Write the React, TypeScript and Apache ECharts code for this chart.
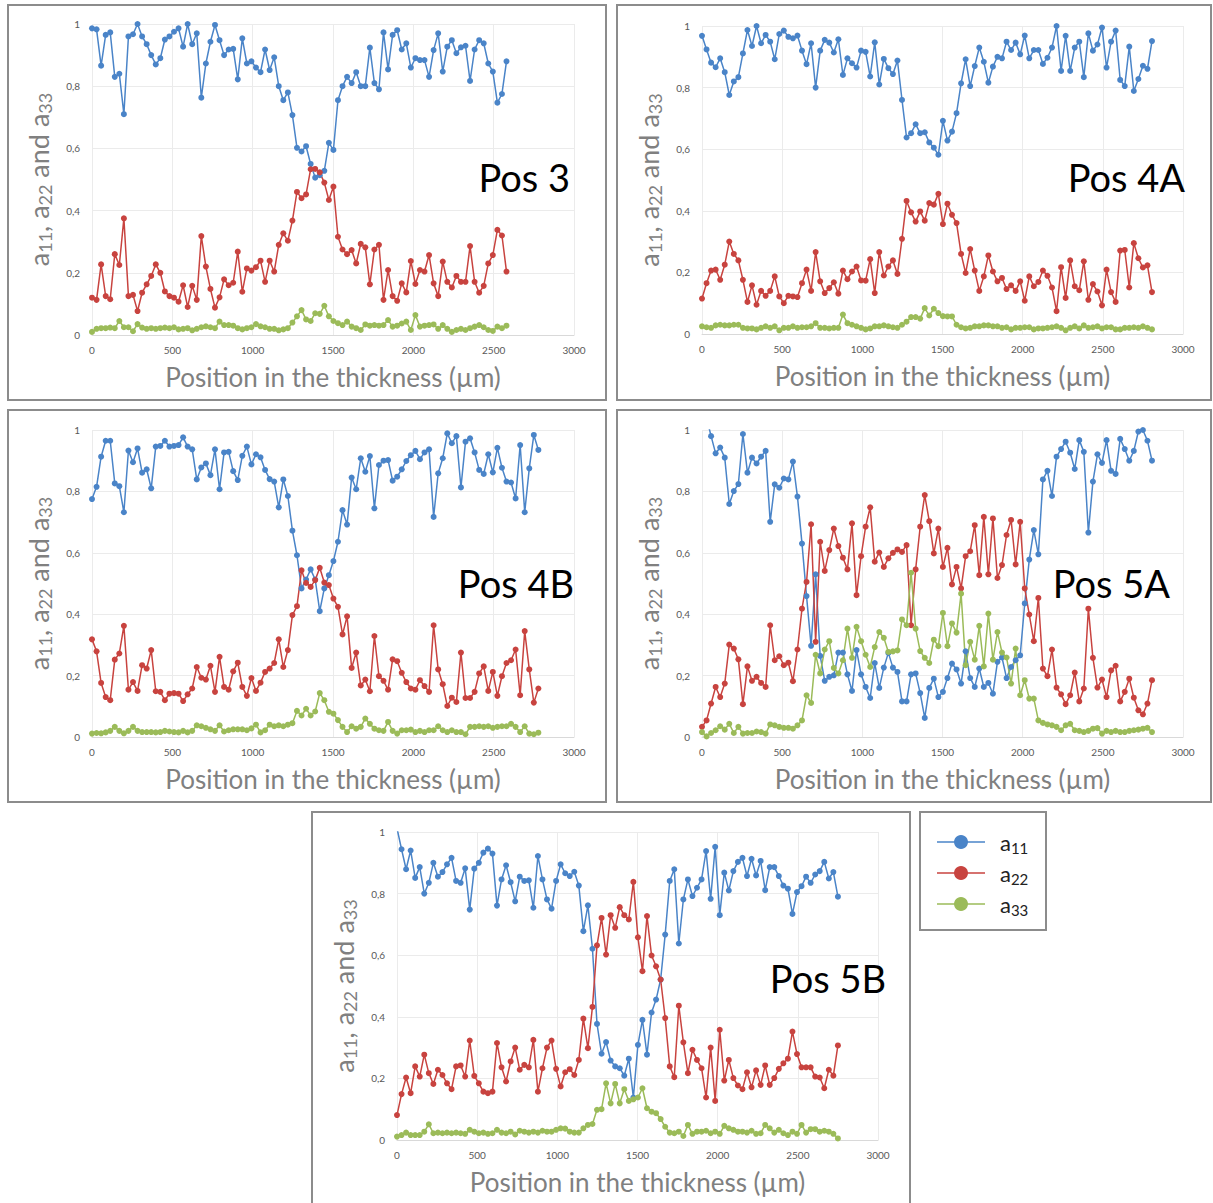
import React, { useEffect, useRef } from "react";
import * as echarts from "echarts";

// sampling step along the thickness (µm)
const STEP_UM = 28.35;
const X_TICKS = [0, 500, 1000, 1500, 2000, 2500, 3000];
const Y_TICK_LABELS = ["0", "0,2", "0,4", "0,6", "0,8", "1"];
const SERIES_NAMES = ["a11", "a22", "a33"];
const PANEL_LABELS = ["Pos 3", "Pos 4A", "Pos 4B", "Pos 5A", "Pos 5B"];

// ---------- Pos 3 ----------
const pos3_a11 = [0.986,0.983,0.866,0.965,0.973,0.83,0.84,0.71,0.96,0.967,1.0,0.96,0.935,0.90,0.87,0.89,0.95,0.96,0.975,0.986,0.927,1.0,0.935,0.97,0.763,0.873,0.943,0.997,0.948,0.90,0.918,0.92,0.822,0.954,0.873,0.88,0.86,0.845,0.918,0.852,0.893,0.80,0.755,0.78,0.707,0.602,0.59,0.607,0.55,0.506,0.514,0.528,0.618,0.595,0.755,0.80,0.83,0.81,0.845,0.80,0.80,0.924,0.81,0.79,0.973,0.854,0.965,0.98,0.918,0.938,0.86,0.89,0.884,0.884,0.83,0.916,0.97,0.847,0.927,0.948,0.906,0.925,0.93,0.817,0.918,0.948,0.938,0.873,0.847,0.747,0.775,0.88];
const pos3_a22 = [0.12,0.113,0.227,0.125,0.115,0.26,0.225,0.375,0.125,0.129,0.077,0.136,0.163,0.19,0.227,0.20,0.14,0.125,0.12,0.107,0.16,0.09,0.158,0.113,0.318,0.22,0.148,0.088,0.121,0.179,0.16,0.168,0.268,0.139,0.214,0.207,0.218,0.239,0.171,0.239,0.204,0.29,0.327,0.303,0.368,0.46,0.44,0.452,0.533,0.534,0.523,0.49,0.434,0.477,0.316,0.275,0.26,0.273,0.23,0.293,0.282,0.163,0.275,0.29,0.113,0.209,0.125,0.11,0.166,0.137,0.238,0.164,0.209,0.204,0.257,0.166,0.125,0.236,0.171,0.153,0.19,0.171,0.171,0.286,0.171,0.136,0.158,0.23,0.257,0.338,0.32,0.204];
const pos3_a33 = [0.01,0.02,0.022,0.022,0.024,0.022,0.045,0.025,0.025,0.012,0.035,0.024,0.02,0.022,0.02,0.022,0.024,0.022,0.025,0.018,0.02,0.022,0.015,0.02,0.025,0.028,0.025,0.022,0.043,0.032,0.032,0.03,0.022,0.018,0.022,0.025,0.035,0.028,0.025,0.02,0.02,0.015,0.018,0.022,0.04,0.06,0.08,0.05,0.045,0.07,0.068,0.094,0.06,0.045,0.038,0.032,0.043,0.027,0.022,0.016,0.034,0.03,0.032,0.03,0.032,0.048,0.027,0.03,0.037,0.043,0.016,0.064,0.027,0.03,0.032,0.034,0.02,0.032,0.02,0.01,0.016,0.02,0.016,0.022,0.027,0.032,0.025,0.016,0.013,0.027,0.022,0.03];

// ---------- Pos 4A ----------
const pos4A_a11 = [0.968,0.924,0.881,0.866,0.895,0.85,0.776,0.82,0.834,0.911,0.987,0.935,1.0,0.944,0.971,0.949,0.892,0.974,0.985,0.965,0.96,0.969,0.92,0.876,0.944,0.80,0.92,0.955,0.946,0.914,0.957,0.841,0.895,0.879,0.865,0.92,0.916,0.836,0.947,0.81,0.893,0.863,0.844,0.888,0.76,0.638,0.652,0.681,0.652,0.655,0.622,0.605,0.582,0.692,0.628,0.657,0.717,0.814,0.892,0.805,0.87,0.93,0.884,0.816,0.868,0.9,0.895,0.949,0.922,0.946,0.908,0.969,0.895,0.922,0.922,0.877,0.897,0.93,1.0,0.854,0.968,0.854,0.93,0.949,0.834,0.976,0.92,0.94,0.995,0.865,0.949,0.985,0.825,0.805,0.933,0.789,0.828,0.871,0.861,0.951];
const pos4A_a22 = [0.115,0.165,0.206,0.209,0.176,0.225,0.30,0.26,0.239,0.176,0.104,0.158,0.095,0.14,0.124,0.14,0.187,0.122,0.10,0.124,0.122,0.12,0.165,0.209,0.14,0.266,0.171,0.133,0.149,0.168,0.131,0.206,0.178,0.203,0.219,0.174,0.173,0.243,0.133,0.266,0.19,0.219,0.239,0.195,0.309,0.432,0.395,0.365,0.398,0.368,0.425,0.42,0.455,0.357,0.423,0.387,0.36,0.26,0.198,0.276,0.206,0.14,0.187,0.255,0.203,0.171,0.182,0.146,0.158,0.14,0.171,0.108,0.187,0.155,0.169,0.206,0.189,0.151,0.074,0.217,0.117,0.239,0.155,0.142,0.236,0.111,0.162,0.138,0.093,0.209,0.136,0.104,0.271,0.273,0.151,0.295,0.246,0.216,0.223,0.136];
const pos4A_a33 = [0.025,0.022,0.02,0.028,0.03,0.028,0.028,0.03,0.03,0.02,0.018,0.018,0.015,0.02,0.025,0.02,0.025,0.012,0.02,0.02,0.025,0.02,0.022,0.022,0.025,0.035,0.02,0.02,0.018,0.02,0.02,0.063,0.035,0.03,0.025,0.02,0.015,0.018,0.025,0.025,0.028,0.025,0.022,0.02,0.03,0.04,0.055,0.055,0.05,0.084,0.06,0.082,0.068,0.058,0.057,0.057,0.03,0.022,0.018,0.02,0.025,0.025,0.028,0.028,0.025,0.025,0.02,0.022,0.015,0.02,0.02,0.022,0.022,0.015,0.018,0.018,0.02,0.022,0.025,0.02,0.012,0.02,0.025,0.018,0.028,0.02,0.022,0.025,0.018,0.022,0.022,0.015,0.015,0.02,0.02,0.022,0.02,0.025,0.02,0.015];

// ---------- Pos 4B ----------
const pos4B_a11 = [0.775,0.815,0.913,0.965,0.965,0.826,0.817,0.732,0.933,0.895,0.94,0.861,0.872,0.81,0.946,0.948,0.965,0.946,0.948,0.951,0.976,0.946,0.937,0.839,0.878,0.891,0.853,0.937,0.807,0.927,0.929,0.866,0.837,0.916,0.946,0.888,0.921,0.911,0.87,0.84,0.832,0.748,0.839,0.785,0.672,0.592,0.484,0.513,0.546,0.513,0.41,0.484,0.527,0.573,0.636,0.739,0.692,0.845,0.807,0.908,0.864,0.915,0.745,0.886,0.9,0.902,0.835,0.848,0.872,0.899,0.918,0.932,0.905,0.927,0.937,0.717,0.859,0.908,0.989,0.957,0.98,0.813,0.962,0.973,0.927,0.87,0.857,0.921,0.862,0.942,0.877,0.832,0.829,0.777,0.951,0.732,0.875,0.984,0.935];
const pos4B_a22 = [0.318,0.279,0.176,0.13,0.12,0.252,0.272,0.362,0.154,0.179,0.15,0.234,0.223,0.283,0.149,0.147,0.12,0.141,0.143,0.141,0.117,0.139,0.158,0.228,0.193,0.187,0.232,0.147,0.261,0.163,0.154,0.214,0.242,0.163,0.134,0.192,0.15,0.177,0.212,0.223,0.241,0.318,0.228,0.283,0.397,0.426,0.543,0.502,0.489,0.511,0.551,0.503,0.495,0.451,0.424,0.334,0.393,0.225,0.275,0.168,0.187,0.149,0.329,0.198,0.183,0.154,0.253,0.247,0.209,0.179,0.158,0.154,0.185,0.166,0.147,0.364,0.22,0.172,0.101,0.128,0.114,0.275,0.127,0.127,0.147,0.207,0.23,0.15,0.212,0.134,0.198,0.241,0.25,0.285,0.136,0.345,0.22,0.112,0.158];
const pos4B_a33 = [0.011,0.013,0.012,0.015,0.02,0.033,0.02,0.012,0.02,0.033,0.02,0.016,0.016,0.016,0.015,0.016,0.02,0.018,0.016,0.015,0.02,0.015,0.02,0.038,0.035,0.03,0.025,0.02,0.038,0.018,0.022,0.025,0.025,0.025,0.022,0.028,0.04,0.015,0.022,0.04,0.035,0.038,0.035,0.04,0.045,0.085,0.07,0.092,0.07,0.083,0.143,0.12,0.082,0.076,0.055,0.033,0.016,0.035,0.027,0.033,0.06,0.043,0.027,0.022,0.02,0.049,0.02,0.011,0.022,0.022,0.024,0.016,0.02,0.016,0.022,0.022,0.035,0.022,0.016,0.022,0.016,0.016,0.009,0.033,0.033,0.035,0.033,0.035,0.03,0.033,0.035,0.035,0.043,0.033,0.016,0.035,0.011,0.009,0.014];

// ---------- Pos 5A ----------
const pos5A_a11 = [1.12,1.04,0.98,0.924,0.943,0.91,0.759,0.801,0.824,0.987,0.861,0.91,0.891,0.913,0.932,0.701,0.823,0.812,0.842,0.839,0.897,0.783,0.63,0.459,0.297,0.53,0.264,0.183,0.196,0.201,0.275,0.275,0.204,0.15,0.283,0.204,0.163,0.127,0.241,0.16,0.226,0.274,0.226,0.212,0.116,0.116,0.204,0.207,0.143,0.062,0.16,0.19,0.13,0.147,0.192,0.239,0.22,0.174,0.279,0.192,0.163,0.223,0.163,0.176,0.141,0.245,0.259,0.192,0.228,0.25,0.266,0.435,0.578,0.674,0.595,0.839,0.867,0.785,0.913,0.938,0.962,0.926,0.873,0.967,0.929,0.666,0.832,0.921,0.893,0.967,0.867,0.857,0.971,0.938,0.9,0.932,0.995,1.0,0.965,0.9];
const pos5A_a22 = [0.033,0.054,0.109,0.163,0.13,0.174,0.301,0.288,0.253,0.107,0.23,0.183,0.196,0.176,0.163,0.364,0.25,0.263,0.234,0.242,0.182,0.285,0.418,0.505,0.693,0.31,0.636,0.541,0.609,0.679,0.622,0.584,0.546,0.696,0.462,0.589,0.685,0.748,0.571,0.601,0.554,0.582,0.60,0.611,0.603,0.625,0.364,0.546,0.685,0.788,0.703,0.598,0.679,0.554,0.616,0.497,0.554,0.484,0.589,0.605,0.69,0.527,0.717,0.53,0.712,0.518,0.56,0.658,0.707,0.562,0.701,0.484,0.399,0.312,0.453,0.223,0.198,0.285,0.161,0.139,0.107,0.136,0.21,0.116,0.158,0.418,0.258,0.161,0.187,0.13,0.217,0.232,0.116,0.147,0.19,0.128,0.087,0.074,0.109,0.185];
const pos5A_a33 = [0.016,0.002,0.013,0.022,0.035,0.024,0.043,0.013,0.033,0.011,0.013,0.013,0.018,0.016,0.011,0.041,0.038,0.033,0.03,0.03,0.027,0.038,0.054,0.136,0.111,0.268,0.207,0.285,0.312,0.225,0.207,0.25,0.353,0.258,0.359,0.312,0.268,0.228,0.293,0.342,0.323,0.277,0.279,0.282,0.383,0.364,0.535,0.353,0.28,0.258,0.241,0.317,0.296,0.404,0.296,0.37,0.34,0.467,0.234,0.31,0.252,0.362,0.23,0.402,0.252,0.342,0.275,0.259,0.174,0.288,0.136,0.185,0.125,0.125,0.054,0.046,0.041,0.038,0.033,0.022,0.038,0.043,0.022,0.02,0.016,0.02,0.027,0.029,0.011,0.02,0.016,0.02,0.016,0.016,0.02,0.022,0.024,0.027,0.03,0.016];

// ---------- Pos 5B ----------
const pos5B_a11 = [1.012,0.944,0.879,0.94,0.851,0.886,0.80,0.835,0.90,0.855,0.87,0.895,0.916,0.841,0.835,0.882,0.748,0.881,0.90,0.933,0.946,0.93,0.761,0.846,0.892,0.837,0.775,0.855,0.841,0.843,0.754,0.922,0.846,0.781,0.751,0.841,0.895,0.866,0.857,0.871,0.826,0.678,0.762,0.621,0.377,0.28,0.318,0.258,0.239,0.233,0.209,0.264,0.138,0.309,0.39,0.277,0.414,0.456,0.521,0.667,0.841,0.879,0.638,0.781,0.846,0.792,0.819,0.846,0.938,0.783,0.952,0.73,0.868,0.81,0.873,0.903,0.916,0.857,0.913,0.859,0.906,0.811,0.886,0.886,0.857,0.826,0.816,0.734,0.805,0.824,0.855,0.835,0.862,0.873,0.903,0.849,0.87,0.79];
const pos5B_a22 = [0.081,0.149,0.203,0.152,0.239,0.206,0.277,0.217,0.182,0.228,0.211,0.184,0.165,0.239,0.242,0.206,0.323,0.208,0.184,0.157,0.152,0.157,0.315,0.236,0.19,0.255,0.30,0.228,0.244,0.236,0.325,0.157,0.233,0.30,0.323,0.231,0.174,0.22,0.23,0.211,0.26,0.394,0.298,0.432,0.632,0.721,0.602,0.73,0.689,0.756,0.73,0.716,0.838,0.658,0.548,0.727,0.599,0.564,0.521,0.396,0.239,0.204,0.436,0.317,0.217,0.293,0.26,0.233,0.138,0.30,0.127,0.358,0.193,0.26,0.201,0.177,0.165,0.22,0.171,0.226,0.179,0.242,0.179,0.201,0.231,0.249,0.264,0.352,0.279,0.236,0.236,0.236,0.206,0.203,0.168,0.228,0.209,0.307];
const pos5B_a33 = [0.011,0.016,0.024,0.016,0.016,0.016,0.027,0.051,0.022,0.024,0.022,0.024,0.022,0.024,0.022,0.02,0.033,0.027,0.022,0.024,0.02,0.022,0.033,0.024,0.022,0.027,0.018,0.03,0.027,0.024,0.027,0.024,0.03,0.027,0.027,0.033,0.038,0.037,0.027,0.024,0.024,0.038,0.049,0.052,0.098,0.1,0.184,0.119,0.182,0.119,0.165,0.127,0.132,0.138,0.168,0.103,0.092,0.087,0.068,0.043,0.024,0.022,0.027,0.013,0.049,0.02,0.027,0.027,0.03,0.022,0.027,0.02,0.046,0.038,0.033,0.027,0.027,0.024,0.03,0.02,0.022,0.049,0.038,0.024,0.033,0.022,0.016,0.027,0.02,0.049,0.024,0.035,0.035,0.027,0.03,0.027,0.02,0.005];

const PANEL_DATA = [
  [pos3_a11, pos3_a22, pos3_a33],
  [pos4A_a11, pos4A_a22, pos4A_a33],
  [pos4B_a11, pos4B_a22, pos4B_a33],
  [pos5A_a11, pos5A_a22, pos5A_a33],
  [pos5B_a11, pos5B_a22, pos5B_a33],
];

const COLORS = ["#4a84c8", "#c8433f", "#9bbb59"];
const FONT = "Lato, 'Open Sans', sans-serif";

// layout (page pixels)
const GRIDS = [
  { left: 92, top: 24, width: 482, height: 311 },
  { left: 702, top: 26, width: 481, height: 308 },
  { left: 92, top: 430, width: 482, height: 307 },
  { left: 702, top: 430, width: 481, height: 307 },
  { left: 397, top: 832, width: 481, height: 308 },
];
const BOXES = [
  { x: 8, y: 5, w: 598, h: 395 },
  { x: 617, y: 5, w: 594, h: 395 },
  { x: 8, y: 410, w: 598, h: 392 },
  { x: 617, y: 410, w: 594, h: 392 },
  { x: 312, y: 812, w: 598, h: 400 },
];
const LABEL_POS = [
  { x: 570, y: 177 },
  { x: 1185, y: 177 },
  { x: 574, y: 583 },
  { x: 1170, y: 583 },
  { x: 886, y: 978 },
];

function buildOption() {
  const grid = GRIDS.map((g) => ({ ...g }));
  const xAxis = GRIDS.map((_, i) => ({
    type: "value",
    gridIndex: i,
    min: 0,
    max: 3000,
    interval: 500,
    name: "Position in the thickness (µm)",
    nameLocation: "middle",
    nameGap: 29,
    nameTextStyle: { fontFamily: FONT, fontSize: 26, color: "#808080" },
    axisLine: { show: true, lineStyle: { color: "#d9d9d9" } },
    axisTick: { show: false },
    axisLabel: {
      fontFamily: FONT,
      fontSize: 10,
      color: "#595959",
      margin: 10,
      formatter: (v: number) => (X_TICKS.includes(v) ? String(v) : ""),
    },
    splitLine: { show: true, lineStyle: { color: "#ebebeb" } },
  }));
  const yAxis = GRIDS.map((_, i) => ({
    type: "value",
    gridIndex: i,
    min: 0,
    max: 1,
    interval: 0.2,
    name: "{a|a}{s|11}{a|, a}{s|22}{a| and a}{s|33}",
    nameLocation: "middle",
    nameGap: 38,
    nameRotate: 90,
    nameTextStyle: {
      fontFamily: FONT,
      color: "#808080",
      rich: {
        a: { fontFamily: FONT, fontSize: 27, color: "#808080" },
        s: { fontFamily: FONT, fontSize: 18, color: "#808080", padding: [14, 0, 0, 0] },
      },
    },
    axisLine: { show: false },
    axisTick: { show: false },
    axisLabel: {
      fontFamily: FONT,
      fontSize: 10,
      color: "#595959",
      margin: 12,
      formatter: (v: number) => Y_TICK_LABELS[Math.round(v * 5)] ?? "",
    },
    splitLine: { show: true, lineStyle: { color: "#ebebeb" } },
  }));

  const series: any[] = [];
  PANEL_DATA.forEach((sets, p) => {
    sets.forEach((vals, s) => {
      series.push({
        type: "line",
        name: SERIES_NAMES[s],
        xAxisIndex: p,
        yAxisIndex: p,
        data: vals.map((v, k) => [k * STEP_UM, v]),
        symbol: "circle",
        symbolSize: 6,
        showSymbol: true,
        clip: true,
        itemStyle: { color: COLORS[s] },
        lineStyle: { color: COLORS[s], width: 1.5 },
        emphasis: { disabled: true },
      });
    });
  });

  const graphic: any[] = [];
  BOXES.forEach((b) => {
    graphic.push({
      type: "rect",
      shape: { x: b.x, y: b.y, width: b.w, height: b.h },
      style: { fill: "none", stroke: "#8c8c8c", lineWidth: 2 },
      silent: true,
      z: 0,
    });
  });
  PANEL_LABELS.forEach((t, i) => {
    graphic.push({
      type: "text",
      x: LABEL_POS[i].x,
      y: LABEL_POS[i].y,
      style: {
        text: t,
        fontFamily: FONT,
        fontSize: 38,
        fill: "#000000",
        align: "right",
        verticalAlign: "middle",
      },
      z: 10,
    });
  });
  // legend box
  graphic.push({
    type: "rect",
    shape: { x: 920, y: 812, width: 126, height: 118 },
    style: { fill: "#ffffff", stroke: "#8c8c8c", lineWidth: 2 },
    z: 0,
  });
  const subs = ["11", "22", "33"];
  [842, 873, 904].forEach((cy, i) => {
    graphic.push({
      type: "line",
      shape: { x1: 937, y1: cy, x2: 985, y2: cy },
      style: { stroke: COLORS[i], lineWidth: 1.5 },
      z: 10,
    });
    graphic.push({
      type: "circle",
      shape: { cx: 961, cy, r: 7 },
      style: { fill: COLORS[i] },
      z: 11,
    });
    graphic.push({
      type: "text",
      x: 1000,
      y: cy,
      style: {
        text: `{a|a}{s|${subs[i]}}`,
        verticalAlign: "middle",
        rich: {
          a: { fontFamily: FONT, fontSize: 22, fill: "#222222" },
          s: { fontFamily: FONT, fontSize: 15, fill: "#222222", padding: [12, 0, 0, 0] },
        },
      },
      z: 11,
    });
  });

  return {
    animation: false,
    backgroundColor: "#ffffff",
    grid,
    xAxis,
    yAxis,
    series,
    graphic,
  };
}

export default function App() {
  const ref = useRef<HTMLDivElement>(null);
  useEffect(() => {
    if (!ref.current) return;
    const chart = echarts.init(ref.current, undefined, { renderer: "svg" });
    chart.setOption(buildOption() as any);
    return () => chart.dispose();
  }, []);
  return (
    <div
      ref={ref}
      style={{ position: "absolute", left: 0, top: 0, width: 1213, height: 1203 }}
    />
  );
}
